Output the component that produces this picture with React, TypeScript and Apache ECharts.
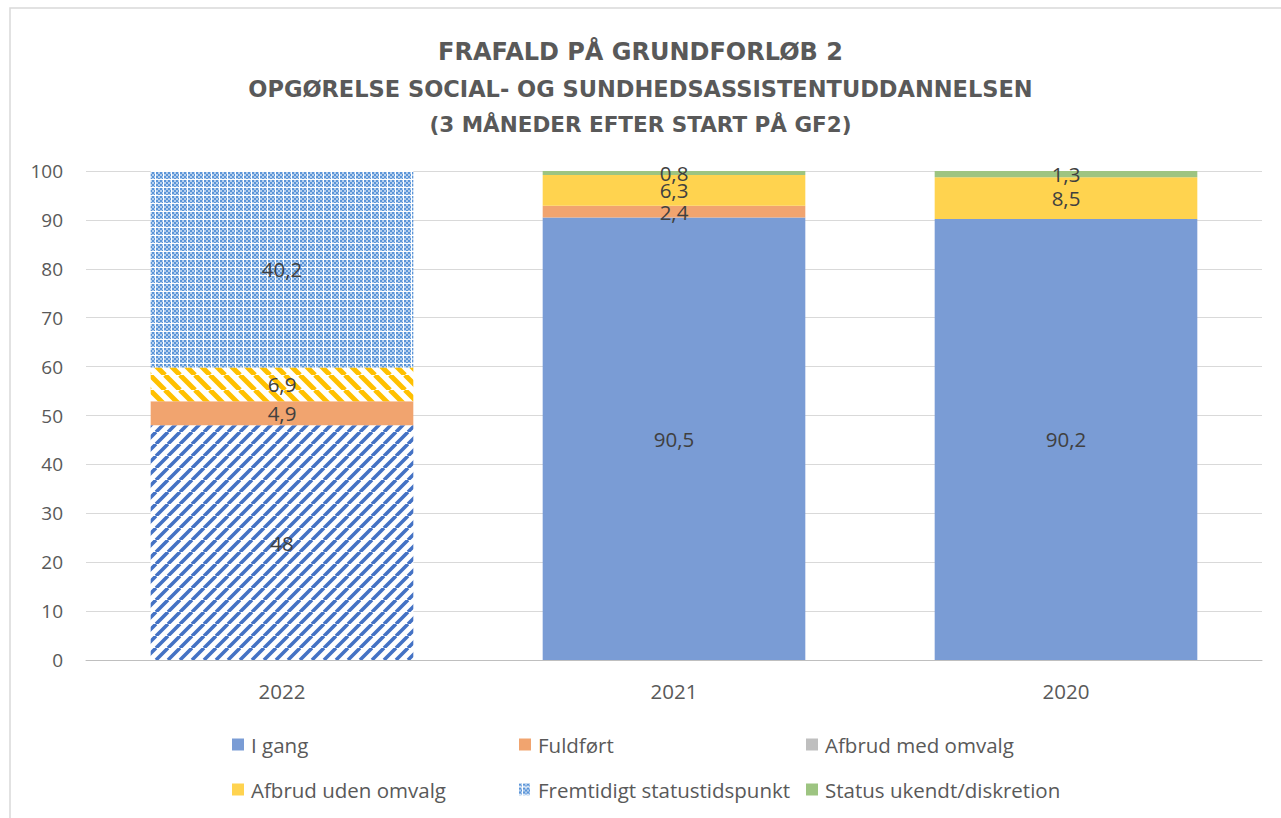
import React, { useEffect, useRef } from "react";
import * as echarts from "echarts";

const categories = ["2022", "2021", "2020"];
const iGang = [48, 90.5, 90.2];
const fuldfort = [4.9, 2.4, 0];
const afbrudMed = [0, 0, 0];
const afbrudUden = [6.9, 6.3, 8.5];
const fremtidigt = [40.2, 0, 0];
const statusUkendt = [0, 0.8, 1.3];
const yTicks = { min: 0, max: 100, interval: 10 };
const titleLines = [
  "FRAFALD PÅ GRUNDFORLØB 2",
  "OPGØRELSE SOCIAL- OG SUNDHEDSASSISTENTUDDANNELSEN",
  "(3 MÅNEDER EFTER START PÅ GF2)",
];
const seriesNames = [
  "I gang",
  "Fuldført",
  "Afbrud med omvalg",
  "Afbrud uden omvalg",
  "Fremtidigt statustidspunkt",
  "Status ukendt/diskretion",
];

const FONT = "Open Sans";
const TITLE_FONT = "DejaVu Sans";

function stripes(color: string, P: number, dir: "up" | "down", w: number) {
  const c = document.createElement("canvas");
  c.width = P;
  c.height = P;
  const ctx = c.getContext("2d")!;
  ctx.fillStyle = "#ffffff";
  ctx.fillRect(0, 0, P, P);
  ctx.strokeStyle = color;
  ctx.lineWidth = w;
  ctx.beginPath();
  for (const k of [-1, 0, 1]) {
    const x = k * P;
    if (dir === "up") {
      ctx.moveTo(x, P);
      ctx.lineTo(x + P, 0);
    } else {
      ctx.moveTo(x, 0);
      ctx.lineTo(x + P, P);
    }
  }
  ctx.stroke();
  return { image: c, repeat: "repeat" };
}

function checker() {
  const c = document.createElement("canvas");
  c.width = 8;
  c.height = 8;
  const ctx = c.getContext("2d")!;
  for (let i = 0; i < 4; i++) {
    for (let j = 0; j < 4; j++) {
      ctx.fillStyle = (i + j) % 2 === 0 ? "#5B95D8" : "#B4CFEE";
      ctx.fillRect(i * 2, j * 2, 2, 2);
    }
  }
  ctx.fillStyle = "#ffffff";
  ctx.fillRect(3, 0, 1, 8);
  ctx.fillRect(0, 3, 8, 1);
  return { image: c, repeat: "repeat" };
}

export default function App() {
  const ref = useRef<HTMLDivElement>(null);
  useEffect(() => {
    const chart = echarts.init(ref.current!, undefined, { renderer: "svg" });
    const blueStripe = stripes("#4472C4", 12, "up", 3.6);
    const yellowStripe = stripes("#FFC000", 15, "down", 5.0);
    const check = checker();

    const label = {
      show: true,
      position: "inside",
      fontFamily: FONT,
      fontSize: 20.5,
      color: "#404040",
      formatter: (p: any) => {
        const v = p.value;
        return v ? String(v).replace(".", ",") : "";
      },
    };

    const colors = ["#7A9CD5", "#F1A46F", "#BFBFBF", "#FFD34F", check, "#9DC481"];
    const dataSets = [
      [{ value: iGang[0], itemStyle: { color: blueStripe } }, iGang[1], iGang[2]],
      fuldfort,
      afbrudMed,
      [{ value: afbrudUden[0], itemStyle: { color: yellowStripe } }, afbrudUden[1], afbrudUden[2]],
      fremtidigt,
      statusUkendt,
    ];

    const series = seriesNames.map((name, i) => ({
      name,
      type: "bar",
      stack: "total",
      barCategoryGap: "33%",
      itemStyle: { color: colors[i] as any },
      label,
      data: dataSets[i],
    }));

    const legendPos = [
      [232, 734],
      [519, 734],
      [806, 734],
      [232, 779],
      [519, 779],
      [806, 779],
    ];

    chart.setOption({
      animation: false,
      title: titleLines.map((t, i) => ({
        text: t,
        left: "center",
        top: [34, 71, 106][i],
        textStyle: {
          fontFamily: TITLE_FONT,
          fontWeight: "bold",
          fontSize: [24, 22.5, 21.5][i],
          color: "#595959",
          lineHeight: 26,
        },
      })),
      grid: { left: 86, right: 19, top: 171, bottom: 158, containLabel: false },
      xAxis: {
        type: "category",
        data: categories,
        axisTick: { show: false },
        axisLine: { lineStyle: { color: "#BFBFBF", width: 1 } },
        axisLabel: { fontFamily: FONT, fontSize: 20.5, color: "#595959", margin: 20 },
      },
      yAxis: {
        type: "value",
        min: yTicks.min,
        max: yTicks.max,
        interval: yTicks.interval,
        axisLine: { show: false },
        axisTick: { show: false },
        splitLine: { lineStyle: { color: "#D9D9D9", width: 1 } },
        axisLabel: { fontFamily: FONT, fontSize: 19, color: "#595959", margin: 23 },
      },
      legend: seriesNames.map((n, i) => ({
        data: [n],
        left: legendPos[i][0],
        top: legendPos[i][1],
        padding: 0,
        icon: "rect",
        itemWidth: 12,
        itemHeight: 12,
        itemGap: 5,
        selectedMode: false,
        textStyle: { fontFamily: FONT, fontSize: 20.5, color: "#595959", lineHeight: 20, padding: [0, 0, 0, 2] },
      })),
      graphic: [
        {
          type: "rect",
          shape: { x: 10, y: 8, width: 1300, height: 830 },
          style: { fill: "none", stroke: "#D9D9D9", lineWidth: 1.5 },
          z: -10,
          silent: true,
        },
      ],
      series,
    } as any);
    return () => chart.dispose();
  }, []);
  return (
    <div
      ref={ref}
      style={{ position: "absolute", left: 0, top: 0, width: 1281, height: 818, background: "#fff" }}
    />
  );
}
